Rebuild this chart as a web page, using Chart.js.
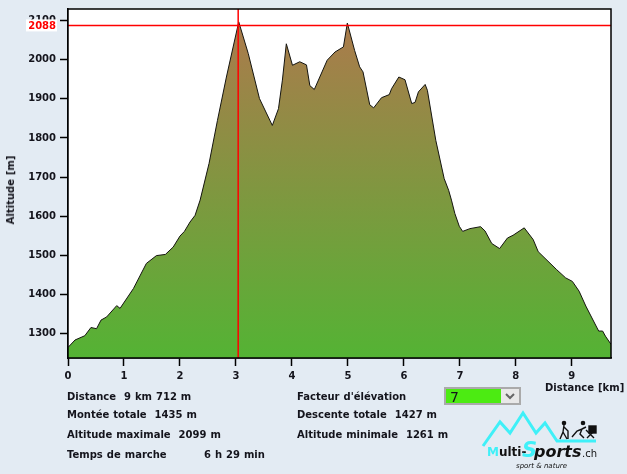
<!DOCTYPE html>
<html lang="fr">
<head>
<meta charset="utf-8">
<title>Profil d'altitude</title>
<script src="https://cdn.jsdelivr.net/npm/chart.js@4"></script>
<style>
    html, body { margin: 0; padding: 0; width: 627px; height: 474px; overflow: hidden; background: #e3ebf3; }
    body { position: relative; font-family: "DejaVu Sans", sans-serif; color: #14141c; }
    #profil { position: absolute; left: 0; top: 0; }
    .info { position: absolute; font-size: 10px; font-weight: bold; line-height: 14px; white-space: pre; word-spacing: 0.5px; }
    #titreY { left: 11px; top: 190px; transform: translate(-50%, -50%) rotate(-90deg); }
    #facteur { position: absolute; left: 444px; top: 387px; width: 77px; height: 18px; box-sizing: border-box;
        border: 2px solid #aaa; background: #4ceb12; }
    #facteur span { position: absolute; left: 4px; top: -1px; font-size: 14px; line-height: 18px; }
    #facteur svg { position: absolute; right: 0; top: 0; width: 18px; height: 14px; background: #e8e8e8; }
    #logo { position: absolute; left: 480px; top: 408px; }
</style>
</head>
<body>
<canvas id="profil" width="627" height="474"></canvas>

<div class="info" id="titreY">Altitude [m]</div>
<div class="info" style="left:545px;top:381px">Distance [km]</div>
<div class="info" style="left:67px;top:390px">Distance  9 km 712 m</div>
<div class="info" style="left:67px;top:408px">Montée totale  1435 m</div>
<div class="info" style="left:67px;top:428px">Altitude maximale  2099 m</div>
<div class="info" style="left:67px;top:448px">Temps de marche</div>
<div class="info" style="left:204px;top:448px">6 h 29 min</div>
<div class="info" style="left:297px;top:390px">Facteur d'élévation</div>
<div class="info" style="left:297px;top:408px">Descente totale  1427 m</div>
<div class="info" style="left:297px;top:428px">Altitude minimale  1261 m</div>

<div id="facteur"><span>7</span><svg viewBox="0 0 18 14"><path d="M5 5 L9 9 L13 5" fill="none" stroke="#666" stroke-width="2"/></svg></div>

<svg id="logo" width="120" height="64" viewBox="0 0 120 64">
    <polyline points="3,38 20,14 30,25 43,5 56,25 65,15 77,33 116,33" fill="none" stroke="#3ff0f8" stroke-width="3"/>
    <g stroke="#111" stroke-width="1.4" fill="none">
        <circle cx="84" cy="15" r="1.6" fill="#111"/>
        <path d="M84 17 L83 24 L80 31 M83 24 L87 31 M84 19 L88 23 L88 31"/>
        <circle cx="103" cy="15" r="1.6" fill="#111"/>
        <path d="M92 29 L97 23 L102 21 L100 26 L104 30 M102 21 L106 19"/>
        <rect x="109" y="18" width="7" height="7" fill="#111"/>
        <path d="M106 22 L114 30 M107 30 L113 24"/>
    </g>
    <text x="7" y="48" font-family="DejaVu Sans" font-size="12" font-weight="bold" fill="#111"><tspan fill="#3ff0f8">M</tspan>ulti-</text>
    <text x="42" y="49" font-family="DejaVu Sans" font-size="21" font-weight="bold" font-style="italic" fill="#3ff0f8">S</text>
    <text x="54" y="49" font-family="DejaVu Sans" font-size="16" font-weight="bold" font-style="italic" fill="#111">ports</text>
    <text x="102" y="49" font-family="DejaVu Sans" font-size="10" fill="#111">.ch</text>
    <text x="36" y="60" font-family="DejaVu Sans" font-size="7" font-style="italic" fill="#111">sport &amp; nature</text>
</svg>

<script>
// Profil
const distances = [0, 0.125, 0.30, 0.41, 0.51, 0.59, 0.69, 0.87, 0.93, 1.17, 1.40, 1.58, 1.74, 1.88, 2.0, 2.08, 2.18, 2.27, 2.36,
    2.52, 2.67, 2.83, 3.05, 3.22, 3.42, 3.65, 3.76, 3.83, 3.90, 4.01, 4.14, 4.26, 4.32, 4.40, 4.63, 4.77, 4.92, 4.99,
    5.12, 5.21, 5.27, 5.39, 5.46, 5.60, 5.74, 5.78, 5.91, 6.02, 6.14, 6.20, 6.26, 6.38, 6.42, 6.57, 6.72, 6.80, 6.85,
    6.91, 6.99, 7.05, 7.18, 7.37, 7.45, 7.57, 7.71, 7.85, 7.95, 8.15, 8.31, 8.40, 8.73, 8.89, 9.01, 9.13, 9.25, 9.48,
    9.55, 9.60, 9.70];
const altitudes = [1264, 1283, 1294, 1315, 1312, 1334, 1342, 1371, 1364, 1415, 1479, 1499, 1502, 1521, 1549, 1561, 1585, 1602, 1641,
    1735, 1845, 1956, 2097, 2016, 1901, 1832, 1875, 1948, 2041, 1986, 1995, 1987, 1934, 1924, 1999, 2020, 2033, 2094,
    2024, 1982, 1969, 1885, 1877, 1903, 1911, 1926, 1956, 1949, 1888, 1891, 1918, 1937, 1922, 1794, 1696, 1666, 1641,
    1607, 1574, 1561, 1568, 1573, 1562, 1530, 1517, 1544, 1551, 1570, 1540, 1509, 1463, 1442, 1433, 1408, 1370, 1306,
    1306, 1293, 1272];

const ticksAltitude = [1300, 1400, 1500, 1600, 1700, 1800, 1900, 2000, 2100];
const ticksDistance = [0, 1, 2, 3, 4, 5, 6, 7, 8, 9];

const curseurDistance = 3.04;
const curseurAltitude = 2088;
const xMin = 0, xMax = 9.7;
const yMin = 1237, yMax = 2130;

const fontTicks = { family: '"DejaVu Sans", sans-serif', size: 10, weight: 'bold' };

function degrade(context) {
    const { ctx, chartArea } = context.chart;
    if (!chartArea) return 'transparent';
    const g = ctx.createLinearGradient(0, chartArea.top + 10, 0, chartArea.bottom);
    g.addColorStop(0, '#ac7a4c');
    g.addColorStop(1, '#54b334');
    return g;
}

// fond blanc, cadre complet et etiquette rouge du curseur
const cadreCurseur = {
    id: 'cadreCurseur',
    beforeDatasetsDraw(chart) {
        const { ctx, chartArea } = chart;
        ctx.save();
        ctx.fillStyle = '#fff';
        ctx.fillRect(chartArea.left, chartArea.top, chartArea.width, chartArea.height);
        ctx.restore();
    },
    afterDraw(chart) {
        const { ctx, chartArea, scales } = chart;
        ctx.save();
        ctx.strokeStyle = '#000';
        ctx.lineWidth = 1.5;
        ctx.strokeRect(chartArea.left, chartArea.top, chartArea.width, chartArea.height);

        const y = scales.y.getPixelForValue(curseurAltitude);
        ctx.fillStyle = '#fff';
        ctx.fillRect(26, y - 6, 31, 12);
        ctx.fillStyle = '#ff0000';
        ctx.font = 'bold 10px "DejaVu Sans", sans-serif';
        ctx.textAlign = 'right';
        ctx.textBaseline = 'middle';
        ctx.fillText(String(curseurAltitude), 56, y + 1);
        ctx.restore();
    }
};

new Chart(document.getElementById('profil').getContext('2d'), {
    type: 'line',
    data: {
        datasets: [
            {
                label: 'Curseur distance',
                data: [{ x: curseurDistance, y: yMin }, { x: curseurDistance, y: yMax }],
                borderColor: '#ff0000',
                borderWidth: 1.5,
                pointRadius: 0,
                fill: false,
                order: 0
            },
            {
                label: 'Curseur altitude',
                data: [{ x: xMin, y: curseurAltitude }, { x: xMax, y: curseurAltitude }],
                borderColor: '#ff0000',
                borderWidth: 1.5,
                pointRadius: 0,
                fill: false,
                order: 0
            },
            {
                label: 'Altitude',
                data: distances.map((d, i) => ({ x: d, y: altitudes[i] })),
                borderColor: '#14140f',
                borderWidth: 1,
                backgroundColor: degrade,
                pointRadius: 0,
                tension: 0,
                fill: 'start',
                order: 1
            }
        ]
    },
    options: {
        responsive: false,
        animation: false,
        layout: { padding: { top: 9, right: 16, left: 0, bottom: 0 } },
        plugins: { legend: { display: false }, tooltip: { enabled: false } },
        scales: {
            x: {
                type: 'linear',
                min: xMin,
                max: xMax,
                afterBuildTicks(scale) { scale.ticks = ticksDistance.map(v => ({ value: v })); },
                grid: { drawOnChartArea: false, drawTicks: true, tickLength: 8, tickColor: '#000', tickWidth: 1.5 },
                border: { color: '#000', width: 1.5 },
                ticks: { color: '#14141c', font: fontTicks, padding: 4, maxRotation: 0, autoSkip: false, callback: v => String(v) },
                afterFit(scale) { scale.height = 116; }
            },
            y: {
                min: yMin,
                max: yMax,
                afterBuildTicks(scale) { scale.ticks = ticksAltitude.map(v => ({ value: v })); },
                grid: { drawOnChartArea: false, drawTicks: true, tickLength: 8, tickColor: '#000', tickWidth: 1.5 },
                border: { color: '#000', width: 1.5 },
                ticks: { color: '#14141c', font: fontTicks, padding: 4, autoSkip: false, callback: v => String(v) },
                afterFit(scale) {
                    scale.width = 68;
                    scale.paddingTop = 0;
                    scale.paddingBottom = 0;
                }
            }
        }
    },
    plugins: [cadreCurseur]
});
</script>
</body>
</html>
